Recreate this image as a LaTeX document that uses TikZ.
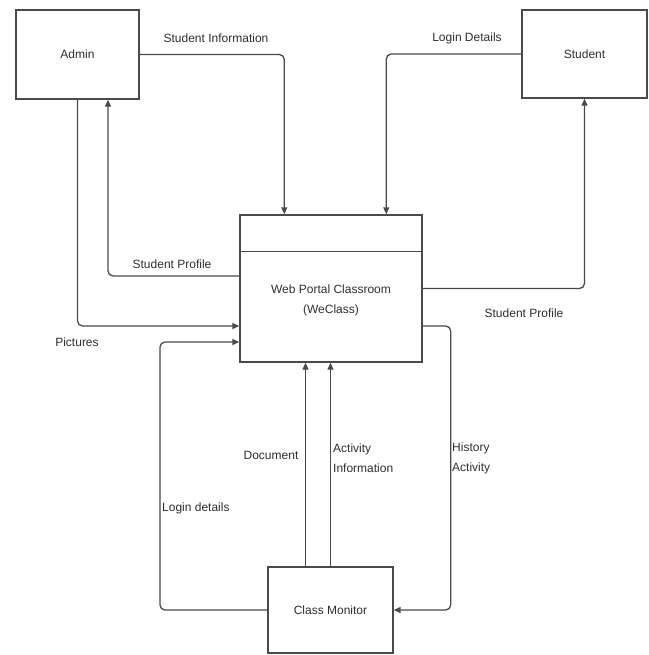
\documentclass[tikz,border=0pt]{standalone}
\usepackage{fontspec}
\setmainfont{Liberation Sans}
\usetikzlibrary{arrows.meta,calc}
\definecolor{ln}{HTML}{4A4A4A}
\definecolor{tx}{HTML}{2E2E2E}
\tikzset{
  ent/.style={draw=ln, line width=1.4pt, rectangle, inner sep=0pt, text=tx, font=\fontsize{12}{14}\selectfont},
  flow/.style={draw=ln, line width=1.3pt, rounded corners=5pt, -{Triangle[length=7pt,width=6pt]}},
  lbl/.style={text=tx, font=\fontsize{12}{14}\selectfont, inner sep=0pt, align=left},
  lbltwo/.style={text=tx, font=\fontsize{12}{20}\selectfont, inner sep=0pt, align=left}
}
\begin{document}
\begin{tikzpicture}[x=1pt,y=-1pt]
\useasboundingbox (0,0) rectangle (648,655);
% entities
\node[ent, minimum width=123pt, minimum height=89pt] (admin) at (77.5,54.5) {Admin};
\node[ent, minimum width=125pt, minimum height=88pt] (student) at (584.5,54) {Student};
\node[ent, minimum width=182pt, minimum height=147pt] (portal) at (331,288.5) {};
\draw[draw=ln, line width=1.4pt] ([yshift=-37pt]portal.north west) -- ([yshift=-37pt]portal.north east);
\node[lbltwo, align=center] (portaltext) at (331,300) {Web Portal Classroom\\(WeClass)};
\node[ent, minimum width=125pt, minimum height=86pt] (monitor) at (330.5,610) {Class Monitor};
\coordinate (lc) at (160,342);
\coordinate (d0) at ([xshift=-25pt]monitor.north);
\coordinate (a0) at (monitor.north);
% flows
\draw[flow] (admin.east) -| ([xshift=45pt]portal.north west);
\draw[flow] (student.west) -| ([xshift=147pt]portal.north west);
\draw[flow] ([yshift=12.5pt]portal.west) -| ([xshift=30.5pt]admin.south);
\draw[flow] (admin.south) |- ([yshift=-37.5pt]portal.west);
\draw[flow] (portal.east) -| (student.south);
\draw[flow] (monitor.west) -| (lc) -- ([yshift=-53.5pt]portal.west);
\draw[flow] (d0) -- (d0 |- portal.south);
\draw[flow] (a0) -- (a0 |- portal.south);
\draw[flow] ([yshift=-37.5pt]portal.east) -- ++(28,0) |- (monitor.east);
% labels
\node[lbl] (l1) at (216,38) {Student Information};
\node[lbl] (l2) at (467,38) {Login Details};
\node[lbl] (l3) at (172,264) {Student Profile};
\node[lbl] (l4) at (77,342) {Pictures};
\node[lbl] (l5) at (524,313) {Student Profile};
\node[lbl, anchor=west] (l6) at (162,508) {Login details};
\node[lbl] (l7) at (271,455) {Document};
\node[lbltwo, anchor=west] (l8) at (333,458) {Activity\\Information};
\node[lbltwo, anchor=west] (l9) at (452,458) {History\\Activity};
\end{tikzpicture}
\end{document}
